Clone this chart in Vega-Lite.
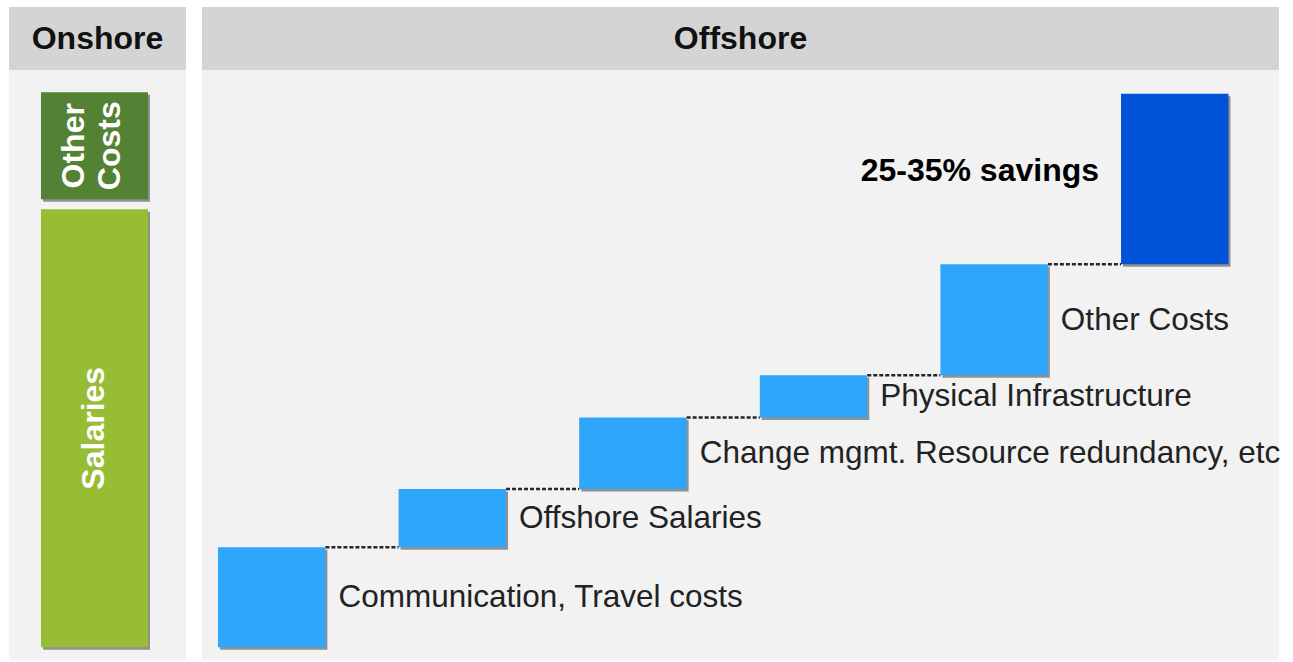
{
  "$schema": "https://vega.github.io/schema/vega-lite/v6.json",
  "background": "#ffffff",
  "padding": {"left": 9, "top": 7, "right": 0, "bottom": 0},
  "config": {"view": {"stroke": null}, "font": "Liberation Sans", "text": {"font": "Liberation Sans"}},
  "datasets": {
    "onshore": [
      {"panel": "Onshore", "kind": "salaries", "label": "Salaries", "lines": 1, "start": 0, "end": 78.9},
      {"panel": "Onshore", "kind": "other", "label": "Other\nCosts", "lines": 2, "start": 80.7, "end": 100}
    ],
    "offshore": [
      {"item": "Communication, Travel costs", "kind": "cost", "start": 0, "end": 18.0, "next": "Offshore Salaries"},
      {"item": "Offshore Salaries", "kind": "cost", "start": 18.0, "end": 28.5, "next": "Change mgmt. Resource redundancy, etc"},
      {"item": "Change mgmt. Resource redundancy, etc", "kind": "cost", "start": 28.5, "end": 41.4, "next": "Physical Infrastructure"},
      {"item": "Physical Infrastructure", "kind": "cost", "start": 41.4, "end": 49.0, "next": "Other Costs"},
      {"item": "Other Costs", "kind": "cost", "start": 49.0, "end": 69.0, "next": "25-35% savings"},
      {"item": "25-35% savings", "kind": "total", "start": 69.0, "end": 99.7, "next": null}
    ]
  },
  "columns": 2,
  "spacing": {"row": 0, "column": 16},
  "bounds": "flush",
  "concat": [
    {
      "width": 177, "height": 63,
      "view": {"fill": "#d4d4d4", "stroke": null},
      "data": {"values": [{"panel": "Onshore"}]},
      "mark": {"type": "text", "fontSize": 32, "fontWeight": "bold", "color": "#111111", "align": "center", "baseline": "middle"},
      "encoding": {"text": {"field": "panel"}}
    },
    {
      "width": 1077, "height": 63,
      "view": {"fill": "#d4d4d4", "stroke": null},
      "data": {"values": [{"panel": "Offshore"}]},
      "mark": {"type": "text", "fontSize": 32, "fontWeight": "bold", "color": "#111111", "align": "center", "baseline": "middle"},
      "encoding": {"text": {"field": "panel"}}
    },
    {
      "width": 177, "height": 590,
      "view": {"fill": "#f2f2f2", "stroke": null},
      "data": {"name": "onshore"},
      "transform": [{"calculate": "(datum.start + datum.end) / 2", "as": "mid"}],
      "encoding": {
        "x": {"field": "panel", "type": "nominal", "axis": null, "scale": {"domain": ["Onshore"], "paddingInner": 0, "paddingOuter": 0.327, "align": 0.457}}
      },
      "layer": [
        {
          "mark": {"type": "bar", "color": "#000000", "opacity": 0.4, "xOffset": 2, "yOffset": 2.5, "y2Offset": 2.5},
          "encoding": {
            "y": {"field": "end", "type": "quantitative", "axis": null, "scale": {"domain": [-2.3, 104], "nice": false, "zero": false}},
            "y2": {"field": "start"}
          }
        },
        {
          "mark": {"type": "bar"},
          "encoding": {
            "y": {"field": "end", "type": "quantitative", "axis": null},
            "y2": {"field": "start"},
            "color": {"field": "kind", "type": "nominal", "legend": null, "scale": {"domain": ["salaries", "other", "cost", "total"], "range": ["#97bd35", "#548235", "#2ea6fc", "#0052d6"]}}
          }
        },
        {
          "transform": [{"filter": "datum.lines == 1"}],
          "mark": {"type": "text", "angle": 270, "fontSize": 32, "fontWeight": "bold", "color": "#ffffff", "align": "center", "baseline": "middle"},
          "encoding": {
            "y": {"field": "mid", "type": "quantitative", "axis": null},
            "text": {"field": "label"}
          }
        },
        {
          "transform": [{"filter": "datum.lines == 2"}],
          "mark": {"type": "text", "angle": 270, "fontSize": 32, "fontWeight": "bold", "color": "#ffffff", "align": "center", "baseline": "middle", "lineBreak": "\n", "lineHeight": 36, "dy": -20},
          "encoding": {
            "y": {"field": "mid", "type": "quantitative", "axis": null},
            "text": {"field": "label"}
          }
        }
      ]
    },
    {
      "width": 1077, "height": 590,
      "view": {"fill": "#f2f2f2", "stroke": null},
      "data": {"name": "offshore"},
      "transform": [{"calculate": "(datum.start + datum.end) / 2", "as": "mid"}],
      "layer": [
        {
          "transform": [{"filter": "datum.next != null"}],
          "mark": {"type": "rule", "color": "#262626", "strokeWidth": 2.5, "strokeDash": [4, 2]},
          "encoding": {
            "x": {"field": "item", "type": "nominal", "bandPosition": 1, "axis": null, "scale": {"domain": ["Communication, Travel costs", "Offshore Salaries", "Change mgmt. Resource redundancy, etc", "Physical Infrastructure", "Other Costs", "25-35% savings"], "paddingInner": 0.405, "paddingOuter": 0.184, "align": 0.24}},
            "x2": {"field": "next", "bandPosition": 0},
            "y": {"field": "end", "type": "quantitative", "axis": null, "scale": {"domain": [-2.3, 104], "nice": false, "zero": false}}
          }
        },
        {
          "mark": {"type": "bar", "color": "#000000", "opacity": 0.4, "xOffset": 2, "yOffset": 2.5, "y2Offset": 2.5},
          "encoding": {
            "x": {"field": "item", "type": "nominal", "axis": null},
            "y": {"field": "end", "type": "quantitative", "axis": null},
            "y2": {"field": "start"}
          }
        },
        {
          "mark": {"type": "bar"},
          "encoding": {
            "x": {"field": "item", "type": "nominal", "axis": null},
            "y": {"field": "end", "type": "quantitative", "axis": null},
            "y2": {"field": "start"},
            "color": {"field": "kind", "type": "nominal", "legend": null, "scale": {"domain": ["salaries", "other", "cost", "total"], "range": ["#97bd35", "#548235", "#2ea6fc", "#0052d6"]}}
          }
        },
        {
          "transform": [{"filter": "datum.kind == 'cost'"}],
          "mark": {"type": "text", "fontSize": 31.5, "color": "#222222", "align": "left", "baseline": "middle", "dx": 13, "dy": 1},
          "encoding": {
            "x": {"field": "item", "type": "nominal", "bandPosition": 1, "axis": null},
            "y": {"field": "mid", "type": "quantitative", "axis": null},
            "text": {"field": "item"}
          }
        },
        {
          "transform": [{"filter": "datum.kind == 'total'"}],
          "mark": {"type": "text", "fontSize": 32, "fontWeight": "bold", "color": "#000000", "align": "right", "baseline": "middle", "dx": -22, "dy": -8},
          "encoding": {
            "x": {"field": "item", "type": "nominal", "bandPosition": 0, "axis": null},
            "y": {"field": "mid", "type": "quantitative", "axis": null},
            "text": {"field": "item"}
          }
        }
      ]
    }
  ]
}
